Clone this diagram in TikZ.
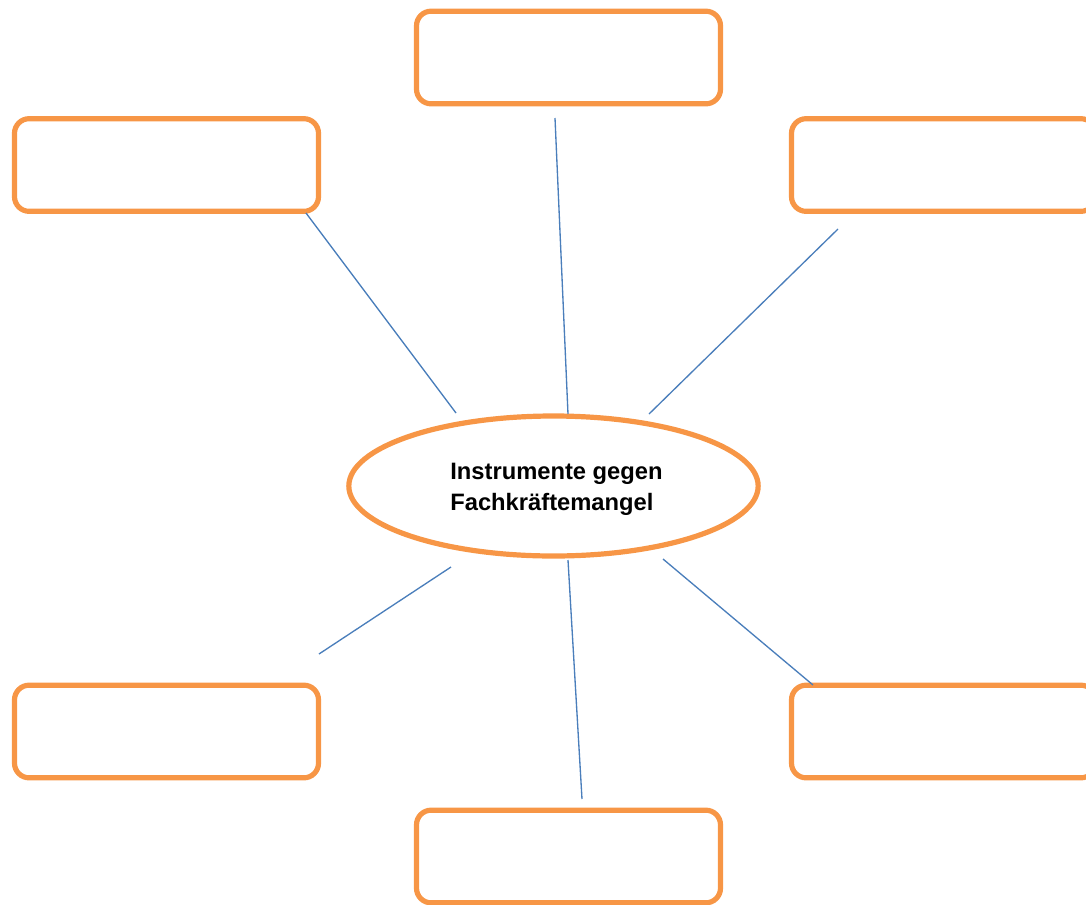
\documentclass[tikz,border=0pt]{standalone}
\usepackage{fontspec}
\setmainfont{Liberation Sans}
\usetikzlibrary{shapes.geometric}
\definecolor{boxorange}{HTML}{F79646}
\definecolor{linkblue}{HTML}{4A7EBB}
\begin{document}
\begin{tikzpicture}[x=0.75pt,y=-0.75pt,
  leaf/.style={draw=boxorange,line width=3.9pt,rounded corners=11pt,
    minimum width=228pt,minimum height=69.5pt,inner sep=0pt},
  hub/.style={draw=boxorange,line width=3.9pt,ellipse,
    minimum width=307pt,minimum height=105pt,inner sep=0pt},
  hubtext/.style={font=\bfseries\fontsize{17.8}{23.3}\selectfont,align=left,inner sep=0pt},
  link/.style={draw=linkblue,line width=1pt}]
\useasboundingbox (0,0) rectangle (1086,904);
\node[leaf] (top) at (568.5,57.5) {};
\node[leaf] (tl) at (166.5,165) {};
\node[leaf] (tr) at (943.5,165) {};
\node[leaf] (bl) at (166.5,731.5) {};
\node[leaf] (br) at (943.5,731.5) {};
\node[leaf] (bot) at (568.5,856.5) {};
\node[hub] (hub) at (553.5,486) {};
\node[hubtext] (label) at (556.5,489) {Instrumente gegen\\Fachkräftemangel};
\coordinate (a1) at (306,213); \coordinate (a2) at (456,413);
\coordinate (b1) at (555,118); \coordinate (b2) at (568,414);
\coordinate (c1) at (838,229); \coordinate (c2) at (649,414);
\coordinate (d1) at (451,567); \coordinate (d2) at (319,654);
\coordinate (e1) at (568,560); \coordinate (e2) at (582,799);
\coordinate (f1) at (663,559); \coordinate (f2) at (813,685);
\draw[link] (a1) -- (a2);
\draw[link] (b1) -- (b2);
\draw[link] (c1) -- (c2);
\draw[link] (d1) -- (d2);
\draw[link] (e1) -- (e2);
\draw[link] (f1) -- (f2);
\end{tikzpicture}
\end{document}
